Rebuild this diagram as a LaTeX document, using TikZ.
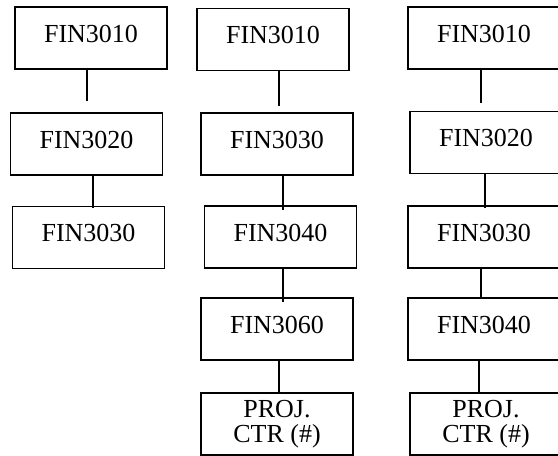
\documentclass[tikz,border=0pt]{standalone}
\usepackage{fontspec}
\setmainfont{Liberation Serif}
\usepackage{tikz}

\begin{document}
\begin{tikzpicture}[x=1pt,y=-1pt,
  box/.style={draw,line width=1.2pt,minimum width=152pt,minimum height=62pt,
    inner sep=0pt,font=\fontsize{26}{25}\selectfont,text height=18pt,text depth=10pt},
  boxtwo/.style={draw,line width=1.2pt,minimum width=152pt,minimum height=62pt,
    inner sep=0pt,font=\fontsize{26}{25}\selectfont,align=center},
  link/.style={line width=1.2pt}]
  \clip (0,0) rectangle (558,456);
  % first column
  \node[box] (a1) at (91,38) {FIN3010};
  \node[box] (a2) at (86.5,144) {FIN3020};
  \node[box] (a3) at (88.5,237.5) {FIN3030};
  \draw[link,shorten >=11pt] ([xshift=-4pt]a1.south) -- ([xshift=-4pt]a1.south |- a2.north);
  \draw[link,shorten >=-2pt] ([xshift=6.5pt]a2.south) -- ([xshift=6.5pt]a2.south |- a3.north);
  % second column
  \node[box] (b1) at (273,39.5) {FIN3010};
  \node[box] (b2) at (277,144) {FIN3030};
  \node[box] (b3) at (280.5,237) {FIN3040};
  \node[box] (b4) at (277,329) {FIN3060};
  \node[boxtwo] (b5) at (277,424) {PROJ.\\CTR (\#)};
  \draw[link,shorten >=6pt] ([xshift=6pt]b1.south) -- ([xshift=6pt]b1.south |- b2.north);
  \draw[link,shorten >=-5pt] ([xshift=6pt]b2.south) -- ([xshift=6pt]b2.south |- b3.north);
  \draw[link,shorten >=-5pt] ([xshift=2.5pt]b3.south) -- ([xshift=2.5pt]b3.south |- b4.north);
  \draw[link,shorten >=-2pt] ([xshift=2pt]b4.south) -- ([xshift=2pt]b4.south |- b5.north);
  % third column
  \node[box] (c1) at (484,38) {FIN3010};
  \node[box] (c2) at (486,142.5) {FIN3020};
  \node[box] (c3) at (484,237) {FIN3030};
  \node[box] (c4) at (484,329) {FIN3040};
  \node[boxtwo] (c5) at (486,424) {PROJ.\\CTR (\#)};
  \draw[link,shorten >=8pt] ([xshift=-3pt]c1.south) -- ([xshift=-3pt]c1.south |- c2.north);
  \draw[link,shorten >=-3pt] ([xshift=-1pt]c2.south) -- ([xshift=-1pt]c2.south |- c3.north);
  \draw[link,shorten <=-2pt,shorten >=-2pt] ([xshift=-3pt]c3.south) -- ([xshift=-3pt]c3.south |- c4.north);
  \draw[link] ([xshift=-5pt]c4.south) -- ([xshift=-5pt]c4.south |- c5.north);
\end{tikzpicture}
\end{document}
